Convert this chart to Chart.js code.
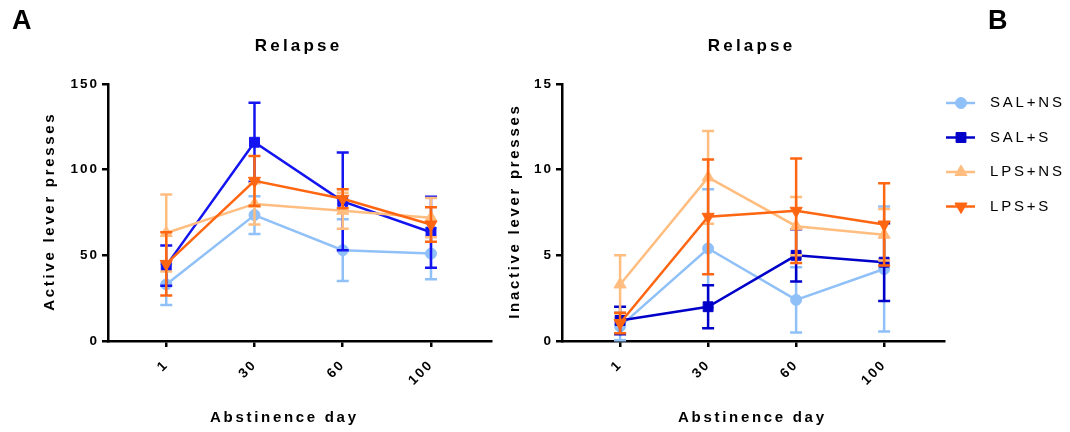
<!DOCTYPE html>
<html>
<head>
<meta charset="utf-8">
<script src="https://cdn.jsdelivr.net/npm/chart.js@4/dist/chart.umd.min.js"></script>
<style>
  body { margin: 0; background: #fff; }
  .wrap { position: relative; width: 1070px; height: 432px; }
  canvas { position: absolute; top: 0; }
  #chartA { left: 0; }
  #chartB { left: 500px; }
</style>
</head>
<body>
<div class="wrap">
  <canvas id="chartA" width="500" height="432"></canvas>
  <canvas id="chartB" width="570" height="432"></canvas>
</div>
<script>
// abstinence days (x categories) and groups
const dayLabels = ['1', '30', '60', '100'];
const groups = ['SAL+NS', 'SAL+S', 'LPS+NS', 'LPS+S'];

// panel A - active lever presses (mean, SEM)
const salNsActive = [33, 73.5, 53, 51];
const salNsActiveErr = [12, 11, 18, 15];
const salSActive = [44, 116, 81.5, 63.5];
const salSActiveErr = [11.7, 23, 28.5, 20.7];
const lpsNsActive = [63, 80, 76, 72];
const lpsNsActiveErr = [22.5, 12, 10.5, 11.5];
const lpsSActive = [45, 93.5, 83, 68];
const lpsSActiveErr = [18.5, 14.5, 5.5, 10];

// panel B - inactive lever presses (mean, SEM)
const salNsInactive = [0.85, 5.4, 2.4, 4.2];
const salNsInactiveErr = [0.8, 3.45, 1.9, 3.65];
const salSInactive = [1.2, 2.0, 5.0, 4.6];
const salSInactiveErr = [0.8, 1.26, 1.52, 2.27];
const lpsNsInactive = [3.3, 9.55, 6.7, 6.2];
const lpsNsInactiveErr = [1.7, 2.7, 1.7, 1.5];
const lpsSInactive = [1.05, 7.25, 7.6, 6.8];
const lpsSInactiveErr = [0.6, 3.35, 3.05, 2.4];

const activeTicks = [0, 50, 100, 150];
const inactiveTicks = [0, 5, 10, 15];

const FONT = "'Liberation Sans', Arial, sans-serif";
const lightBlue = '#90c0f8';
const lightOrange = '#ffbd80';
const orange = '#ff6612';

// marker styles per group
const markers = [
  { pointStyle: 'circle', radius: 5.5, rotation: 0 },
  { pointStyle: 'rect', radius: 7, rotation: 0 },
  { pointStyle: 'triangle', radius: 7, rotation: 0 },
  { pointStyle: 'triangle', radius: 7, rotation: 180 }
];

function makeDataset(i, values, errors, color) {
  return {
    label: groups[i],
    data: values.map((v, k) => ({ x: k, y: v })),
    errors: errors,
    borderColor: color,
    backgroundColor: color,
    borderWidth: 2.5,
    pointStyle: markers[i].pointStyle,
    pointRadius: markers[i].radius,
    pointRotation: markers[i].rotation,
    pointBorderWidth: 1,
    pointBackgroundColor: color,
    pointBorderColor: color,
    tension: 0,
    clip: false,
    order: 3 - i
  };
}

// error bars drawn under each dataset's own line
const errorBars = {
  id: 'errorBars',
  beforeDatasetDraw(chart, args) {
    const ds = chart.data.datasets[args.index];
    const y = chart.scales.y;
    const ctx = chart.ctx;
    ctx.save();
    ctx.strokeStyle = ds.borderColor;
    ctx.lineWidth = 2.5;
    args.meta.data.forEach((pt, k) => {
      const m = ds.data[k].y, e = ds.errors[k];
      const top = y.getPixelForValue(m + e);
      const bot = y.getPixelForValue(Math.max(m - e, 0));
      ctx.beginPath();
      ctx.moveTo(pt.x, top); ctx.lineTo(pt.x, bot);
      ctx.moveTo(pt.x - 6, top); ctx.lineTo(pt.x + 6, top);
      ctx.moveTo(pt.x - 6, bot); ctx.lineTo(pt.x + 6, bot);
      ctx.stroke();
    });
    ctx.restore();
  }
};

// letter-spaced text, titles, panel letter and legend
function spacedText(ctx, text, x, y, font, spacing, align, rot) {
  ctx.save();
  ctx.font = font;
  ctx.letterSpacing = spacing + 'px';
  ctx.fillStyle = '#000';
  ctx.textBaseline = 'middle';
  ctx.textAlign = 'left';
  const w = ctx.measureText(text).width - spacing;
  ctx.translate(x, y);
  if (rot) ctx.rotate(rot);
  const start = align === 'center' ? -w / 2 : 0;
  ctx.fillText(text, start, 0);
  ctx.restore();
}

const panelText = {
  id: 'panelText',
  beforeUpdate(chart) { chart.ctx.letterSpacing = '2px'; },
  beforeDraw(chart) { chart.ctx.letterSpacing = '2px'; },
  afterDraw(chart, args, o) {
    const ctx = chart.ctx;
    const area = chart.chartArea;
    spacedText(ctx, o.panel, o.panelX, 22, 'bold 27px ' + FONT, 0, 'left');
    spacedText(ctx, o.title, o.titleX, 46, 'bold 17px ' + FONT, 3.2, 'center');
    spacedText(ctx, o.xTitle, o.xTitleX, 418, 'bold 15px ' + FONT, 2.7, 'center');
    spacedText(ctx, o.yTitle, o.yTitleX, (area.top + area.bottom) / 2, 'bold 15px ' + FONT, 2.7, 'center', -Math.PI / 2);
    if (o.legend) {
      const rows = [103, 137.5, 172, 206.5];
      chart.data.datasets.forEach((ds, i) => {
        const yy = rows[i];
        ctx.save();
        ctx.strokeStyle = ds.borderColor;
        ctx.fillStyle = ds.borderColor;
        ctx.lineWidth = 2.5;
        ctx.beginPath();
        ctx.moveTo(o.legendX, yy); ctx.lineTo(o.legendX + 29, yy);
        ctx.stroke();
        ctx.lineWidth = 1;
        Chart.helpers.drawPoint(ctx, {
          pointStyle: markers[i].pointStyle,
          radius: markers[i].radius,
          rotation: markers[i].rotation,
          borderWidth: 1
        }, o.legendX + 15, yy);
        ctx.restore();
        spacedText(ctx, ds.label, o.legendX + 44, yy, '15px ' + FONT, 2.8, 'left');
      });
    }
  }
};

function makeChart(id, datasets, yTicks, yWidth, rightPad, text) {
  return new Chart(document.getElementById(id), {
    type: 'line',
    data: { datasets: datasets },
    plugins: [errorBars, panelText],
    options: {
      responsive: false,
      animation: false,
      layout: { padding: { left: 0, top: 84, right: rightPad, bottom: 31 } },
      plugins: {
        legend: { display: false },
        tooltip: { enabled: false },
        title: { display: false },
        panelText: text
      },
      scales: {
        x: {
          type: 'linear',
          min: -0.66,
          max: 3.68,
          afterBuildTicks: (s) => { s.ticks = dayLabels.map((_, k) => ({ value: k })); },
          afterFit: (s) => { s.height = 60; },
          border: { display: true, color: '#000', width: 2.5 },
          grid: { drawOnChartArea: false, drawTicks: true, tickLength: 6, color: '#000', lineWidth: 2.5 },
          ticks: {
            autoSkip: false,
            minRotation: 45,
            maxRotation: 45,
            padding: 10,
            color: '#000',
            font: { family: FONT, size: 13.5, weight: 'bold' },
            callback: (v) => dayLabels[v]
          }
        },
        y: {
          min: yTicks[0],
          max: yTicks[yTicks.length - 1],
          afterBuildTicks: (s) => { s.ticks = yTicks.map(v => ({ value: v })); },
          afterFit: (s) => { s.width = yWidth; },
          border: { display: true, color: '#000', width: 2.5 },
          grid: { drawOnChartArea: false, drawTicks: true, tickLength: 6, color: '#000', lineWidth: 2.5 },
          ticks: {
            padding: 3,
            color: '#000',
            font: { family: FONT, size: 13.5, weight: 'bold' }
          }
        }
      }
    }
  });
}

makeChart('chartA', [
  makeDataset(0, salNsActive, salNsActiveErr, lightBlue),
  makeDataset(1, salSActive, salSActiveErr, '#1414f0'),
  makeDataset(2, lpsNsActive, lpsNsActiveErr, lightOrange),
  makeDataset(3, lpsSActive, lpsSActiveErr, orange)
], activeTicks, 108, 9, {
  panel: 'A', panelX: 12, title: 'Relapse', titleX: 297,
  xTitle: 'Abstinence day', xTitleX: 283,
  yTitle: 'Active lever presses', yTitleX: 50, legend: false
});

makeChart('chartB', [
  makeDataset(0, salNsInactive, salNsInactiveErr, lightBlue),
  makeDataset(1, salSInactive, salSInactiveErr, '#0000c8'),
  makeDataset(2, lpsNsInactive, lpsNsInactiveErr, lightOrange),
  makeDataset(3, lpsSInactive, lpsSInactiveErr, orange)
], inactiveTicks, 62, 126, {
  panel: 'B', panelX: 488, title: 'Relapse', titleX: 250,
  xTitle: 'Abstinence day', xTitleX: 251,
  yTitle: 'Inactive lever presses', yTitleX: 15, legend: true, legendX: 446
});
</script>
</body>
</html>
